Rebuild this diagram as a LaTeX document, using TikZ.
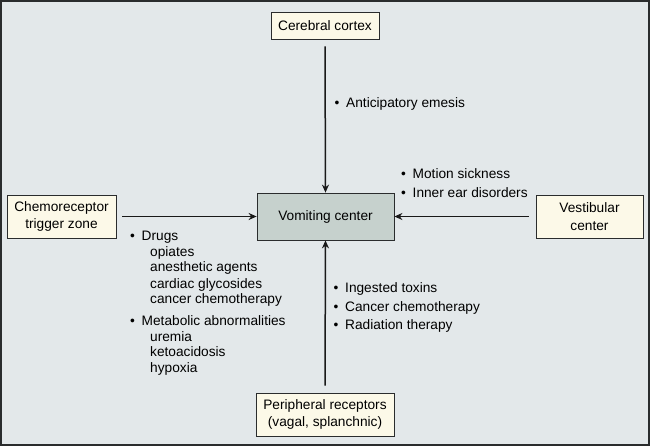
\documentclass[tikz,border=0pt]{standalone}
\usepackage{fontspec}
\setmainfont{Liberation Sans}
\usetikzlibrary{arrows.meta}
\definecolor{bgc}{HTML}{E3E8EA}
\definecolor{cream}{HTML}{FCF9E8}
\definecolor{vcfill}{HTML}{C6D1CD}
\definecolor{frame}{HTML}{2A2C2D}
\newcommand{\bl}{\makebox[11.5pt][l]{•}}
\begin{document}
\begin{tikzpicture}[x=1pt,y=-1pt,font=\fontsize{13.7}{17.5}\selectfont,
		box/.style={draw=frame,fill=cream,line width=.8pt,align=center,inner sep=0pt},
		lbl/.style={anchor=base west,inner sep=0pt},
		arr/.style={-{Stealth[length=8pt,width=7pt]},line width=1.5pt,draw=black!90}]
			\useasboundingbox (0,0) rectangle (650,446);
			\draw[fill=bgc,draw=frame,line width=2pt] (1,1) rectangle (649,445);
			\node[box,minimum width=108,minimum height=27] (cc) at (325,25.5) {Cerebral cortex};
			\node[box,fill=vcfill,minimum width=137,minimum height=47] (vc) at (325.5,216.5) {Vomiting center};
			\node[box,minimum width=109,minimum height=43] (ctz) at (61.5,216.5) {Chemoreceptor\\trigger zone};
			\node[box,minimum width=107,minimum height=43] (vest) at (589.5,216.5) {Vestibular\\center};
			\node[box,minimum width=138,minimum height=43] (pr) at (325,414.5) {Peripheral receptors\\(vagal, splanchnic)};
			\draw[arr] ([yshift=-7]cc.south)--(vc.north);
			\draw[arr] ([yshift=7]pr.north)--(vc.south);
			\draw[arr] ([xshift=6]ctz.east)--(vc.west);
			\draw[arr] ([xshift=-7]vest.west)--(vc.east);
			\node[lbl] (ae) at (334.5,107.3) {\bl Anticipatory emesis};
			\foreach \y/\gt[count=\i] in {179/Motion sickness,197.3/Inner ear disorders}\node[lbl] (v\i) at (401,\y) {\bl\gt};
			\foreach \y/\gt[count=\i] in {292.7/Ingested toxins,311/Cancer chemotherapy,329.5/Radiation therapy}\node[lbl] (p\i) at (333.5,\y) {\bl\gt};
			\foreach \y/\gt[count=\i] in {240.7/Drugs,325/Metabolic abnormalities}\node[lbl] (c\i) at (130,\y) {\bl\gt};
			\foreach \y/\gt[count=\i] in {256/opiates,272/anesthetic agents,288/cardiac glycosides,303.5/cancer chemotherapy,341/uremia,356.5/ketoacidosis,372/hypoxia}\node[lbl] (s\i) at (150,\y) {\gt};
		\end{tikzpicture}
\end{document}
